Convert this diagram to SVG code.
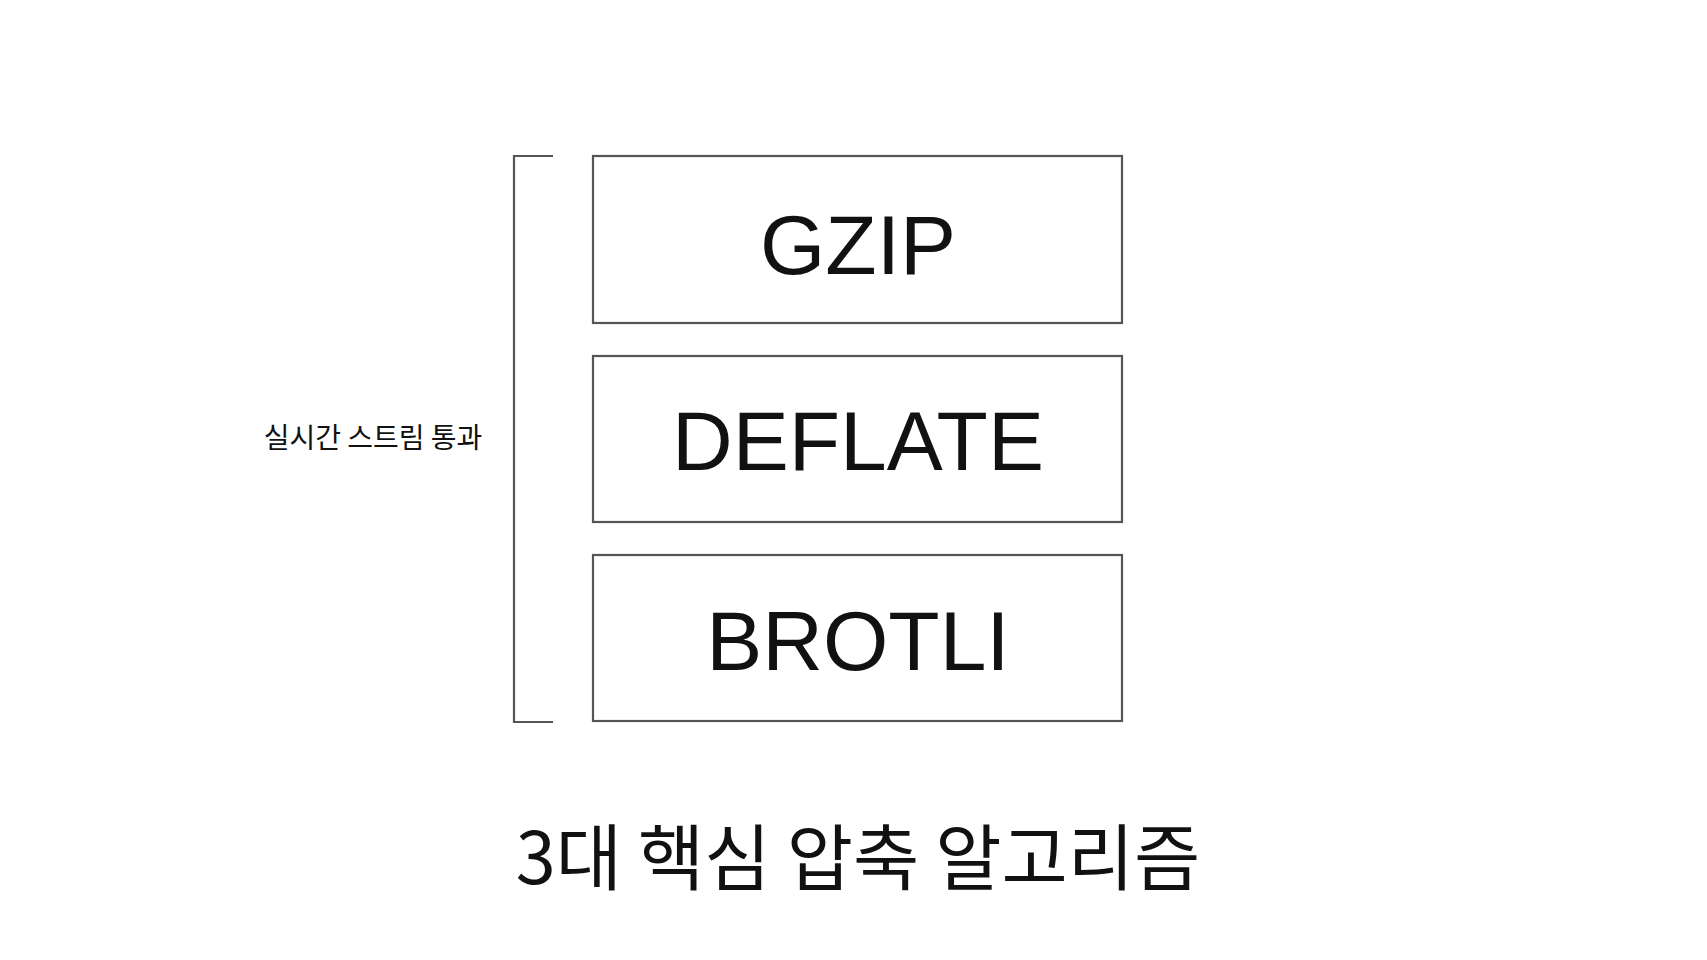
<svg xmlns="http://www.w3.org/2000/svg" width="1707" height="960" viewBox="0 0 1707 960">
<style>
.box{fill:#fff;stroke:#555;stroke-width:2.2}
.t{font-family:"Liberation Sans","Noto Sans",sans-serif;font-size:84px;fill:#111;text-anchor:middle}
</style>
<rect width="1707" height="960" fill="#fff"/>
<g id="connectors"><path d="M553 156H514V722H553" fill="none" stroke="#555" stroke-width="2.2"/></g>
<g id="gzip"><rect class="box" x="593" y="156" width="529" height="167"/><text class="t" x="858" y="274">GZIP</text></g>
<g id="deflate"><rect class="box" x="593" y="356" width="529" height="166"/><text class="t" x="858" y="470">DEFLATE</text></g>
<g id="brotli"><rect class="box" x="593" y="555" width="529" height="166"/><text class="t" x="858" y="670">BROTLI</text></g>
<g id="label"><text x="373" y="448" font-family="Noto Sans CJK KR,sans-serif" font-size="28" text-anchor="middle" fill="#111">실시간 스트림 통과</text></g>
<g id="title"><text x="858" y="884" font-family="Noto Sans CJK KR,sans-serif" font-size="72" text-anchor="middle" fill="#111">3대 핵심 압축 알고리즘</text></g>
</svg>
